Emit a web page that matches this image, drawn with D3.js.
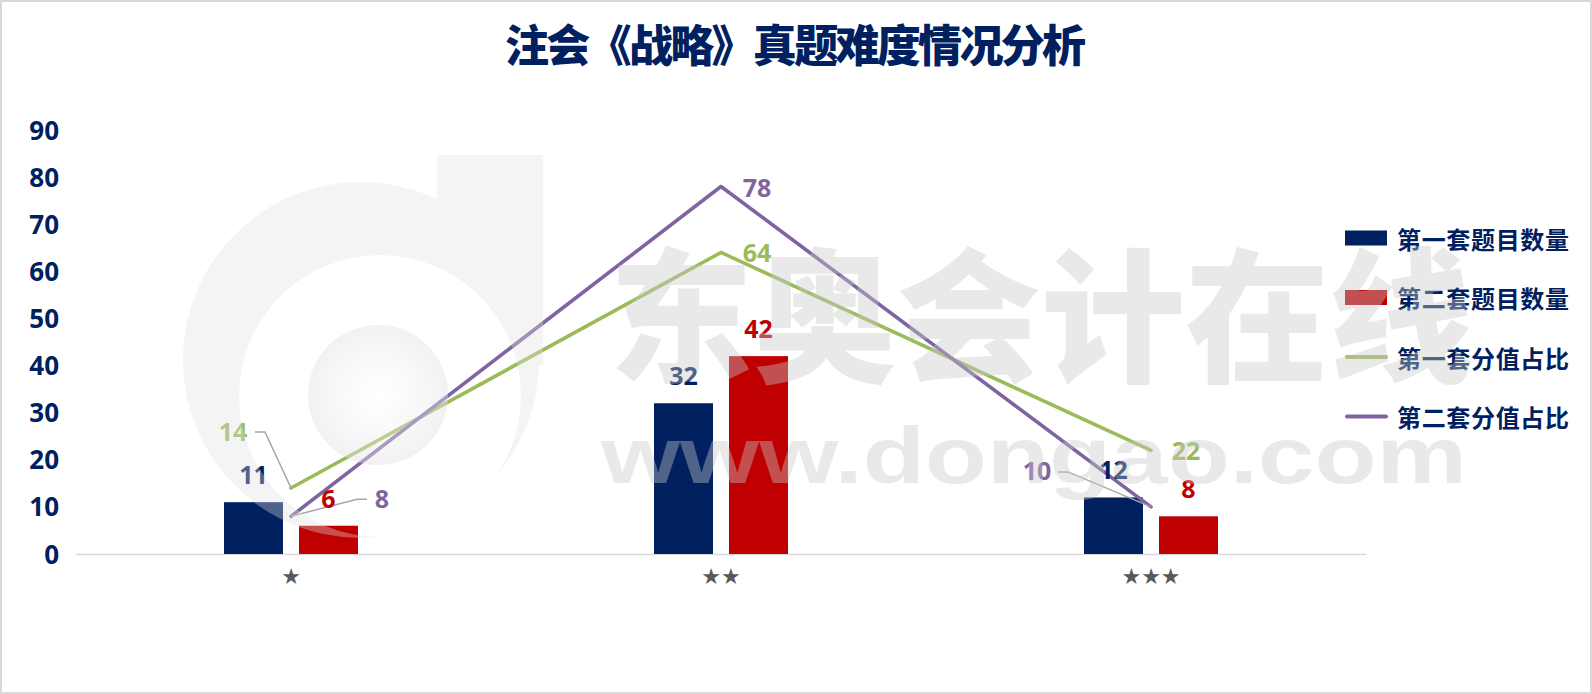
<!DOCTYPE html>
<html><head><meta charset="utf-8">
<script src="https://cdn.jsdelivr.net/npm/d3@7"></script>
<style>body{margin:0;background:#fff}svg{display:block}</style>
</head><body>
<svg id="c" width="1592" height="694"></svg>
<script>
// ---- data ----
const title = "注会《战略》真题难度情况分析";
const categories = ["★", "★★", "★★★"];
const set1Count = [11, 32, 12];
const set2Count = [6, 42, 8];
const set1Share = [14, 64, 22];
const set2Share = [8, 78, 10];
const yTicks = [0, 10, 20, 30, 40, 50, 60, 70, 80, 90];
const seriesNames = ["第一套题目数量", "第二套题目数量", "第一套分值占比", "第二套分值占比"];
const watermarkCN = "东奥会计在线";
const watermarkEN = "www.dongao.com";

// ---- styles ----
const NAVY = "#002060", RED = "#C00000", GREEN = "#9BBB59", PURPLE = "#8064A2";
const NUMFONT = "'Open Sans','Noto Sans',sans-serif";
const CJK = "'Noto Sans CJK SC','Noto Sans',sans-serif";

const svg = d3.select("#c");
svg.append("rect").attr("x",1).attr("y",1).attr("width",1590).attr("height",692)
  .attr("fill","#fff").attr("stroke","#d9d9d9").attr("stroke-width",2);

// title
svg.append("text").attr("x",795.5).attr("y",43).attr("text-anchor","middle")
  .attr("dominant-baseline","central").attr("font-family",CJK).attr("font-weight",900)
  .attr("font-size",44).attr("fill",NAVY).attr("textLength",581).text(title);

// scales
const x = d3.scaleBand().domain(categories).range([76,1366]).padding(0);
const y = d3.scaleLinear().domain([0,90]).range([554,130]);
const cx = c => x(c) + x.bandwidth()/2;
const bw = x.bandwidth()*0.1372, half = x.bandwidth()*0.0186;

// y axis
const ya = svg.append("g").attr("transform","translate(59,0)")
  .call(d3.axisLeft(y).tickValues(yTicks).tickSize(0).tickPadding(0).tickFormat(d3.format("d")));
ya.select(".domain").remove();
ya.selectAll("text").attr("font-family",NUMFONT).attr("font-weight",700)
  .attr("font-size",26).attr("fill",NAVY).attr("dy","0.35em");

// x axis
const xa = svg.append("g").attr("transform","translate(0,554)")
  .call(d3.axisBottom(x).tickSize(0).tickSizeOuter(0));
xa.select(".domain").attr("stroke","#d9d9d9").attr("stroke-width",1.5);
xa.selectAll("text").attr("y",22).attr("dy","0.35em").attr("font-family","'DejaVu Sans',sans-serif")
  .attr("font-size",22).attr("fill","#595959");

// bars
svg.append("g").selectAll("rect").data(categories).join("rect")
  .attr("x",c=>cx(c)-half-bw).attr("width",bw)
  .attr("y",(c,i)=>y(set1Count[i])).attr("height",(c,i)=>y(0)-y(set1Count[i])).attr("fill",NAVY);
svg.append("g").selectAll("rect").data(categories).join("rect")
  .attr("x",c=>cx(c)+half).attr("width",bw)
  .attr("y",(c,i)=>y(set2Count[i])).attr("height",(c,i)=>y(0)-y(set2Count[i])).attr("fill",RED);

// lines
const line = d3.line().x((d,i)=>cx(categories[i])).y(d=>y(d));
svg.append("path").datum(set1Share).attr("d",line).attr("fill","none").attr("stroke",GREEN)
  .attr("stroke-width",3.6).attr("stroke-linecap","round").attr("stroke-linejoin","round");
svg.append("path").datum(set2Share).attr("d",line).attr("fill","none").attr("stroke",PURPLE)
  .attr("stroke-width",3.6).attr("stroke-linecap","round").attr("stroke-linejoin","round");

// data labels
const lab = svg.append("g").attr("font-family",NUMFONT).attr("font-weight",700).attr("font-size",25)
  .attr("text-anchor","middle").attr("dominant-baseline","central");
categories.forEach((c,i)=>{
  lab.append("text").attr("x",cx(c)-half-bw/2).attr("y",y(set1Count[i])-28).attr("fill",NAVY).text(set1Count[i]);
  lab.append("text").attr("x",cx(c)+half+bw/2).attr("y",y(set2Count[i])-28).attr("fill",RED).text(set2Count[i]);
});
// line label placement: [dx,dy] of label, optional leader points relative to point
const place1 = [{l:[-58,-57],k:[[-36,-56],[-26,-56]]},{l:[36,0]},{l:[35,0]}];
const place2 = [{l:[91,-18],k:[[76,-17],[66,-17]]},{l:[36,0]},{l:[-114,-37],k:[[-93,-35],[-83,-35]]}];
function lineLabels(vals, places, color){
  vals.forEach((v,i)=>{
    const px = cx(categories[i]), py = y(v), p = places[i];
    if(p.k){
      const pts = p.k.map(d=>[px+d[0],py+d[1]]).concat([[px,py]]);
      svg.append("path").attr("d",d3.line()(pts)).attr("fill","none").attr("stroke","#a6a6a6").attr("stroke-width",1.5);
    }
    lab.append("text").attr("x",px+p.l[0]).attr("y",py+p.l[1]).attr("fill",color).text(v);
  });
}
lineLabels(set1Share, place1, GREEN);
lineLabels(set2Share, place2, PURPLE);
lab.raise();

// legend
const lg = svg.append("g");
const colors = [NAVY, RED, GREEN, PURPLE];
seriesNames.forEach((n,i)=>{
  const yy = 238 + i*59.5;
  if(i<2) lg.append("rect").attr("x",1345).attr("y",yy-7.5).attr("width",42).attr("height",15).attr("fill",colors[i]);
  else lg.append("line").attr("x1",1347).attr("x2",1386).attr("y1",yy).attr("y2",yy)
    .attr("stroke",colors[i]).attr("stroke-width",4).attr("stroke-linecap","round");
  lg.append("text").attr("x",1397).attr("y",yy).attr("dominant-baseline","central")
    .attr("font-family",CJK).attr("font-weight",700).attr("font-size",24).attr("fill",NAVY)
    .attr("textLength",172).text(n);
});

// watermark (overlay)
const defs = svg.append("defs");
const m = defs.append("mask").attr("id","logoMask");
m.append("rect").attr("width",1592).attr("height",694).attr("fill","black");
m.append("circle").attr("cx",361).attr("cy",360).attr("r",178).attr("fill","white");
m.append("rect").attr("x",437).attr("y",155).attr("width",106).attr("height",210).attr("fill","white");
m.append("circle").attr("cx",380).attr("cy",396).attr("r",141).attr("fill","black");
svg.append("rect").attr("width",1592).attr("height",694).attr("fill","rgba(224,224,224,0.35)").attr("mask","url(#logoMask)");
const rg = defs.append("radialGradient").attr("id","ball");
rg.append("stop").attr("offset","0%").attr("stop-color","rgba(255,255,255,0.3)");
rg.append("stop").attr("offset","100%").attr("stop-color","rgba(225,225,225,0.45)");
svg.append("circle").attr("cx",378).attr("cy",395).attr("r",70).attr("fill","url(#ball)");

svg.append("text").attr("x",609).attr("y",308).attr("dominant-baseline","central")
  .attr("font-family",CJK).attr("font-weight",900).attr("font-size",144)
  .attr("fill","rgba(200,200,200,0.4)").attr("textLength",864).text(watermarkCN);
svg.append("text").attr("x",601).attr("y",483)
  .attr("font-family","'Liberation Sans','Noto Sans',sans-serif").attr("font-weight",700).attr("font-size",80)
  .attr("fill","rgba(200,200,200,0.4)").attr("textLength",866).attr("lengthAdjust","spacingAndGlyphs").text(watermarkEN);
</script>
</body></html>
